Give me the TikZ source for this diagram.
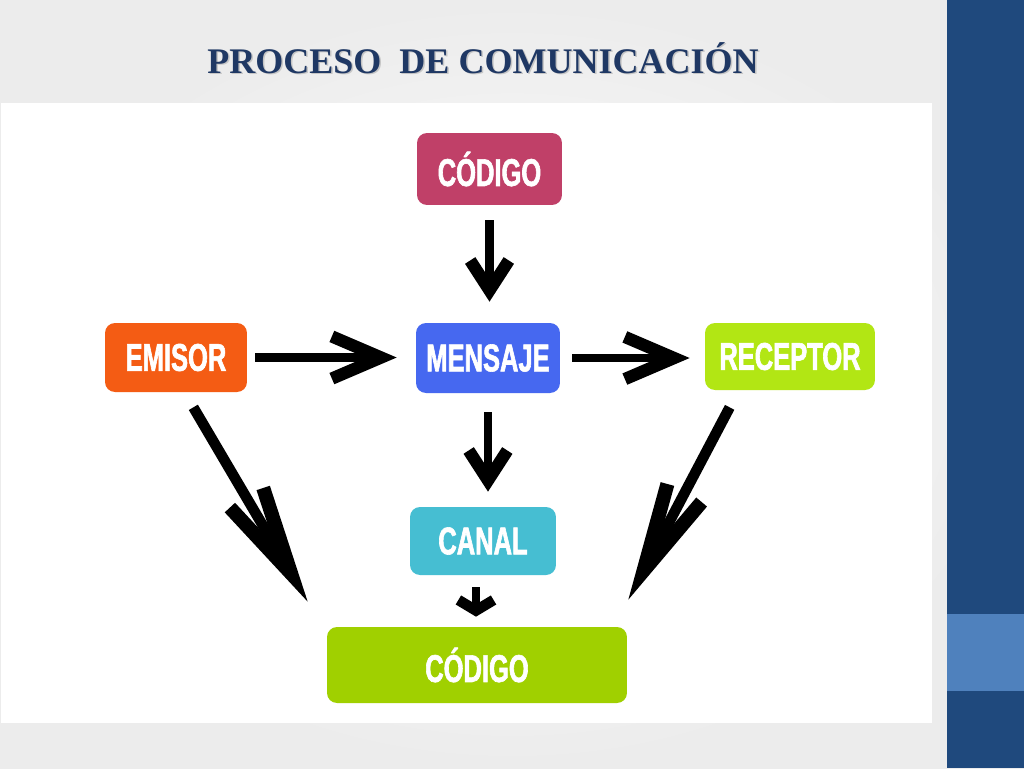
\documentclass[tikz,border=0pt]{standalone}
\usepackage{fontspec}
\usepackage{xcolor}
\usetikzlibrary{arrows.meta}
\usetikzlibrary{calc}
\newfontfamily\cajafont[FakeStretch=0.66, BoldFeatures={FakeBold=1.6}]{Liberation Sans}
\newfontfamily\titlefont{Liberation Serif}
\definecolor{rojoCod}{RGB}{192,64,104}
\definecolor{naranja}{RGB}{244,92,20}
\definecolor{azulMen}{RGB}{70,104,240}
\definecolor{lima}{RGB}{178,230,20}
\definecolor{cian}{RGB}{70,190,210}
\definecolor{verdeCod}{RGB}{160,208,0}
\definecolor{azulBarra}{RGB}{31,73,125}
\definecolor{azulClaro}{RGB}{79,129,189}
\definecolor{azulTitulo}{RGB}{31,56,100}

\tikzset{
  caja/.style={rectangle, rounded corners=0.2cm, inner sep=0pt, text=white,
    font=\cajafont\fontsize{22}{22}\selectfont\bfseries},
  flecha/.style={line width=5pt, line join=miter},
  flechaH/.style={flecha, -{Straight Barb[length=28pt, width=24pt, line width=7pt]}},
  flechaV/.style={flecha, -{Straight Barb[length=17pt, width=22pt, line width=7pt]}},
  flechaD/.style={flecha, line width=6pt, -{Straight Barb[length=50pt, width=22pt, line width=8pt]}},
  flechaC/.style={flecha, -{Straight Barb[length=6pt, width=20pt, line width=6pt]}}
}

\begin{document}
\begin{tikzpicture}[x=0.02cm, y=-0.02cm]
\useasboundingbox (0,0) rectangle (1024,768);

% fondo
\shade[inner color=white, outer color=gray!15] (0,0) rectangle (1024,768);
\fill[white] (1,103) rectangle (932,723);
\fill[azulBarra] (947,0) rectangle (1024,768);
\fill[azulClaro] (947,614) rectangle (1024,691);

% titulo
\node[text=gray!45, font=\titlefont\fontsize{20.5}{20.5}\selectfont\bfseries] at (484.5,59.5) {PROCESO\ \ DE COMUNICACIÓN};
\node[text=azulTitulo, font=\titlefont\fontsize{20.5}{20.5}\selectfont\bfseries] (titulo) at (483,58) {PROCESO\ \ DE COMUNICACIÓN};

% cajas
\node[caja, fill=rojoCod, minimum width=2.9cm, minimum height=1.44cm] (codigoA) at (489.5,169) {CÓDIGO};
\node[caja, fill=naranja, minimum width=2.84cm, minimum height=1.38cm] (emisor) at (176,357.5) {EMISOR};
\node[caja, fill=azulMen, minimum width=2.88cm, minimum height=1.4cm] (mensaje) at (488,358) {MENSAJE};
\node[caja, fill=lima, minimum width=3.4cm, minimum height=1.34cm] (receptor) at (790,356.5) {RECEPTOR};
\node[caja, fill=cian, minimum width=2.92cm, minimum height=1.36cm] (canal) at (483,541) {CANAL};
\node[caja, fill=verdeCod, minimum width=6cm, minimum height=1.52cm] (codigoB) at (477,665) {CÓDIGO};

% flechas
\draw[flechaV, shorten <=0.3cm, shorten >=0.42cm] (codigoA.south) -- (codigoA.south |- mensaje.north);
\draw[flechaH, shorten <=0.16cm, shorten >=0.38cm] (emisor.east) -- (emisor.east -| mensaje.west);
\draw[flechaH, shorten <=0.24cm, shorten >=0.3cm] (mensaje.east) -- (mensaje.east -| receptor.west);
\draw[flechaV, shorten <=0.38cm, shorten >=0.3cm] (mensaje.south) -- (mensaje.south |- canal.north);
\draw[flechaC, shorten <=0.24cm, shorten >=0.2cm] ([xshift=-4]canal.south) -- ([xshift=-4]canal.south |- codigoB.north);
\draw[flechaD] ([shift={(-54,15)}]emisor.south east) -- ([shift={(-19,-25)}]codigoB.north west);
\draw[flechaD] ([shift={(25,17)}]receptor.south west) -- ([shift={(1,-27)}]codigoB.north east);

\end{tikzpicture}
\end{document}
